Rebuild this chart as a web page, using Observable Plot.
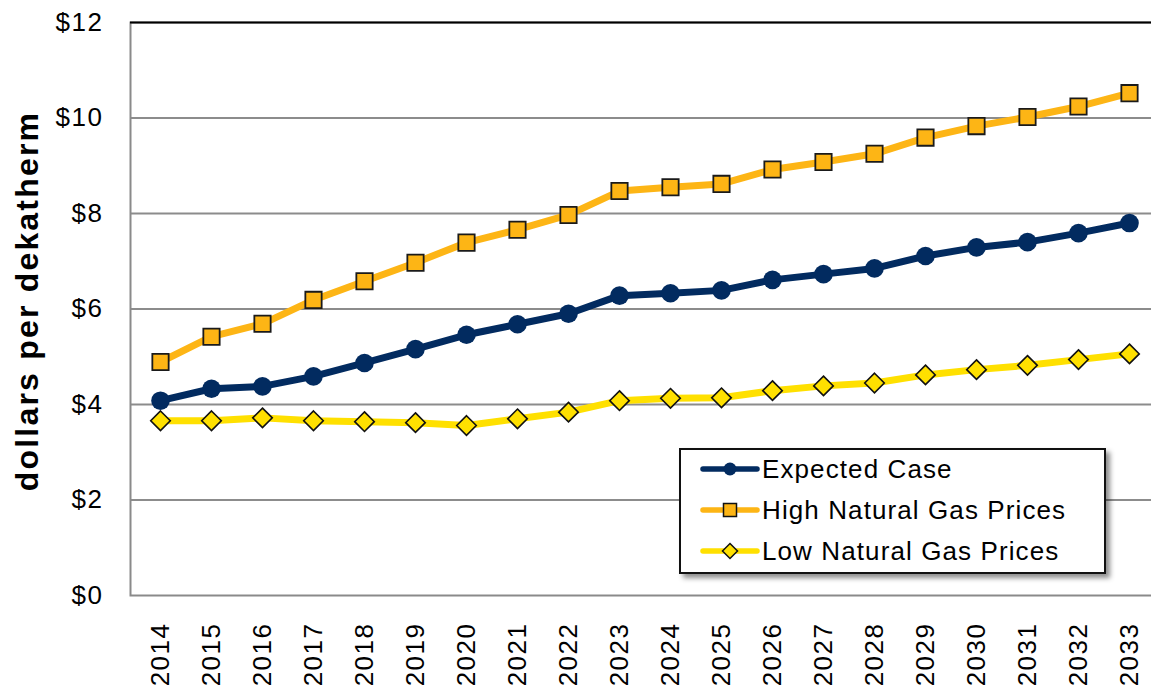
<!DOCTYPE html>
<html>
<head>
<meta charset="utf-8">
<script src="https://cdn.jsdelivr.net/npm/d3@7"></script>
<script src="https://cdn.jsdelivr.net/npm/@observablehq/plot@0.6"></script>
<style>
  html, body { margin: 0; padding: 0; background: #fff; }
  #wrap { position: relative; width: 1151px; height: 690px; overflow: hidden; }
  #legend {
    position: absolute; left: 679px; top: 448px; width: 423px; height: 122px;
    border: 2px solid #111; background: #fff;
    box-shadow: 4px 4px 5px rgba(0,0,0,0.45);
  }
  #legend svg { display: block; }
  #legend text { font-family: "Liberation Sans", Arial, sans-serif; font-size: 26px; letter-spacing: 1.1px; fill: #000; }
</style>
</head>
<body>
<div id="wrap"><div id="chart"></div><div id="legend"></div></div>
<script>
const years = ["2014","2015","2016","2017","2018","2019","2020","2021","2022","2023","2024","2025","2026","2027","2028","2029","2030","2031","2032","2033"];
const expectedCase = [4.08,4.33,4.38,4.59,4.87,5.16,5.46,5.68,5.90,6.28,6.33,6.39,6.61,6.73,6.85,7.11,7.29,7.40,7.59,7.80];
const highGas = [4.89,5.42,5.69,6.19,6.58,6.97,7.39,7.66,7.97,8.47,8.55,8.62,8.92,9.08,9.25,9.59,9.83,10.02,10.24,10.52];
const lowGas = [3.66,3.66,3.72,3.66,3.64,3.62,3.56,3.70,3.84,4.08,4.13,4.14,4.29,4.39,4.45,4.62,4.73,4.82,4.94,5.06];
const seriesNames = ["Expected Case","High Natural Gas Prices","Low Natural Gas Prices"];
const yTicks = [0,2,4,6,8,10,12];
const gridTicks = [2,4,6,8,10];
const yLabel = "dollars per dekatherm";

const navy = "#022B60", orange = "#FDB515", yellow = "#FFE000";

const rows = (vals) => years.map((y, i) => ({year: y, value: vals[i]}));
const exp = rows(expectedCase), hi = rows(highGas), lo = rows(lowGas);

const chart = Plot.plot({
  width: 1151,
  height: 690,
  marginLeft: 130,
  marginRight: -7,
  marginTop: 22,
  marginBottom: 95,
  style: {fontFamily: "'Liberation Sans', Arial, sans-serif", fontSize: "26px", color: "#000", background: "#fff"},
  x: {type: "point", domain: years, padding: 0.5},
  y: {domain: [0, 12]},
  marks: [
    Plot.ruleY(gridTicks, {stroke: "#8c8c8c", strokeWidth: 2}),
    Plot.frame({stroke: "#8a8a8a", strokeWidth: 2}),
    Plot.ruleY([12], {stroke: "#000", strokeWidth: 2}),
    Plot.axisY({ticks: yTicks, tickFormat: d => "$" + d, tickSize: 0, tickPadding: 27, label: null}),
    Plot.axisX({tickRotate: -90, tickSize: 0, tickPadding: 27, label: null}),
    Plot.line(lo, {x: "year", y: "value", stroke: yellow, strokeWidth: 7}),
    Plot.line(hi, {x: "year", y: "value", stroke: orange, strokeWidth: 7}),
    Plot.line(exp, {x: "year", y: "value", stroke: navy, strokeWidth: 7}),
    Plot.dot(lo, {x: "year", y: "value", symbol: "diamond2", r: 8.8, fill: yellow, stroke: "#111", strokeWidth: 1.6}),
    Plot.dot(hi, {x: "year", y: "value", symbol: "square", r: 9.2, fill: orange, stroke: "#1a1a1a", strokeWidth: 1.8}),
    Plot.dot(exp, {x: "year", y: "value", symbol: "circle", r: 9.3, fill: navy})
  ]
});
document.getElementById("chart").appendChild(chart);

d3.select(chart).selectAll("text").each(function() {
  const t = this.textContent;
  if (/^\$|^20/.test(t)) d3.select(this).attr("letter-spacing", "1.5px");
});

// y-axis title
d3.select(chart).append("text")
  .attr("transform", "translate(26,301) rotate(-90)")
  .attr("text-anchor", "middle")
  .attr("dy", "0.36em")
  .attr("font-size", 32)
  .attr("font-weight", "bold")
  .attr("letter-spacing", "2.2px")
  .attr("fill", "#000")
  .text(yLabel);

// Legend
const lg = d3.select("#legend").append("svg").attr("width", 423).attr("height", 122);
const legendItems = [
  {name: seriesNames[0], color: navy, kind: "circle"},
  {name: seriesNames[1], color: orange, kind: "square"},
  {name: seriesNames[2], color: yellow, kind: "diamond"}
];
legendItems.forEach((d, i) => {
  const cy = 19 + i * 41;
  const g = lg.append("g");
  g.append("line").attr("x1", 22).attr("x2", 76).attr("y1", cy).attr("y2", cy)
    .attr("stroke", d.color).attr("stroke-width", 5.5).attr("stroke-linecap", "round");
  if (d.kind === "circle") g.append("circle").attr("cx", 49).attr("cy", cy).attr("r", 6.5).attr("fill", d.color);
  if (d.kind === "square") g.append("rect").attr("x", 42.5).attr("y", cy - 6.5).attr("width", 13).attr("height", 13)
    .attr("fill", d.color).attr("stroke", "#111").attr("stroke-width", 1.5);
  if (d.kind === "diamond") g.append("path").attr("d", `M49,${cy-7.5}L56.5,${cy}L49,${cy+7.5}L41.5,${cy}Z`)
    .attr("fill", d.color).attr("stroke", "#111").attr("stroke-width", 1.5);
  g.append("text").attr("x", 81).attr("y", cy).attr("dy", "0.36em").text(d.name);
});
</script>
</body>
</html>
